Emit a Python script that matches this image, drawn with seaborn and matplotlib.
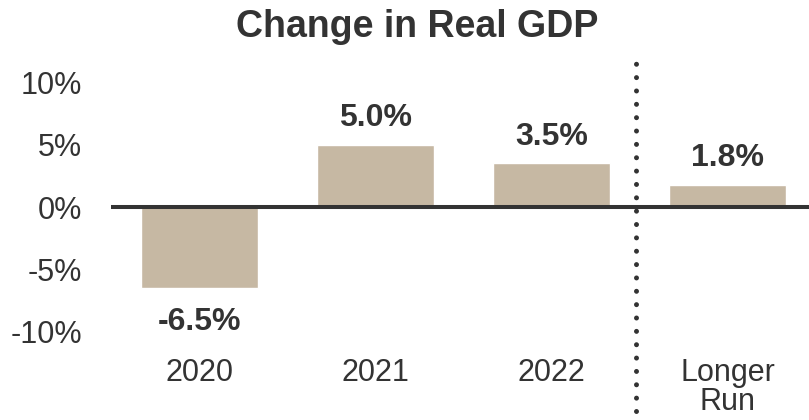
import matplotlib
matplotlib.use("Agg")
import matplotlib.pyplot as plt
import seaborn as sns
import pandas as pd

categories = ["2020", "2021", "2022", "Longer\nRun"]
gdp_change = [-6.5, 5.0, 3.5, 1.8]
ytick_values = [-10, -5, 0, 5, 10]
ytick_labels = ["-10%", "-5%", "0%", "5%", "10%"]
title_text = "Change in Real GDP"

sns.set_style("white")
plt.rcParams["font.family"] = ["Liberation Sans", "DejaVu Sans"]

TEXT = "#333333"
BAR = "#C6B8A3"

fig = plt.figure(figsize=(8.09, 4.20), dpi=100)
ax = fig.add_axes([111 / 809, 0.0, 698 / 809, 1.0])

df = pd.DataFrame({"cat": categories, "val": gdp_change})
sns.barplot(data=df, x="cat", y="val", color=BAR, saturation=1, width=0.664,
            ax=ax, zorder=2)

ax.set_xlim(-0.501, 3.463)
ax.set_ylim(-17.09, 16.61)

ax.axhline(0, color=TEXT, lw=2.9, zorder=3)
ax.vlines(2.48, -16.4, 12.2, color=TEXT, lw=3.6,
          linestyles=[(0, (0.001, 2.67))], capstyle="round", zorder=3)

for s in ["top", "right", "left"]:
    ax.spines[s].set_visible(False)
ax.spines["bottom"].set_position(("data", -12))
ax.spines["bottom"].set_visible(False)

ax.set_yticks(ytick_values)
ax.set_yticklabels(ytick_labels)
ax.tick_params(axis="y", length=0, pad=21, labelsize=22, labelcolor=TEXT)
ax.tick_params(axis="x", length=0, pad=1, labelsize=22, labelcolor=TEXT)
for lbl in ax.get_xticklabels():
    lbl.set_linespacing(0.95)
ax.set_xlabel("")
ax.set_ylabel("")
ax.grid(False)

cont = ax.containers[0]
pos_labels = [f"{v:.1f}%" if v >= 0 else "" for v in gdp_change]
neg_labels = [f"{v:.1f}%" if v < 0 else "" for v in gdp_change]
ax.bar_label(cont, labels=pos_labels, padding=8.1, fontsize=23,
             fontweight="bold", color=TEXT)
ax.bar_label(cont, labels=neg_labels, padding=13.7, fontsize=23,
             fontweight="bold", color=TEXT)

fig.text(417.5 / 809, 1 - 36.7 / 420, title_text, ha="center", va="baseline",
         fontsize=27, fontweight="bold", color=TEXT)

fig.savefig("out.png", dpi=100)
